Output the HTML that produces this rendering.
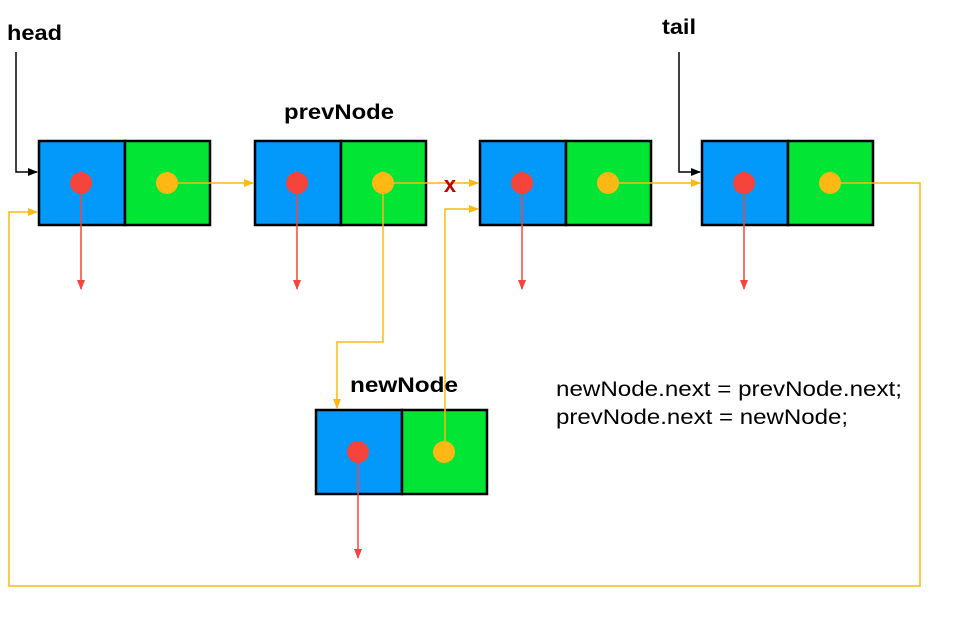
<!DOCTYPE html>
<html><head><meta charset="utf-8"><style>
html,body{margin:0;padding:0;background:#fff;width:974px;height:617px;overflow:hidden}
svg text{font-family:"Liberation Sans",Arial,sans-serif}
</style></head><body>
<svg width="974" height="617" viewBox="0 0 974 617">
<defs>
<marker id="ao" markerWidth="10" markerHeight="10" refX="9" refY="5" orient="auto" markerUnits="userSpaceOnUse"><path d="M0,1 L10,5 L0,9 Z" fill="#FDB813"/></marker>
<marker id="ar" markerWidth="10" markerHeight="10" refX="9" refY="5" orient="auto" markerUnits="userSpaceOnUse"><path d="M0,1 L10,5 L0,9 Z" fill="#F5443B"/></marker>
<marker id="ak" markerWidth="10" markerHeight="10" refX="9" refY="5" orient="auto" markerUnits="userSpaceOnUse"><path d="M0,1 L10,5 L0,9 Z" fill="#000"/></marker>
</defs>
<g id="nodes"></g>
<g fill="none" stroke-width="1.5">
<polyline points="16,52 16,172 37,172" stroke="#000" marker-end="url(#ak)"/>
<polyline points="679,52 679,172 700,172" stroke="#000" marker-end="url(#ak)"/>
<line x1="167" y1="183" x2="253" y2="183" stroke="#FDB813" marker-end="url(#ao)"/>
<line x1="383" y1="183" x2="478" y2="183" stroke="#FDB813" marker-end="url(#ao)"/>
<line x1="608" y1="183" x2="700" y2="183" stroke="#FDB813" marker-end="url(#ao)"/>
<polyline points="383,183 383,342 337,342 337,408" stroke="#FDB813" marker-end="url(#ao)"/>
<polyline points="445,452 445,209 478,209" stroke="#FDB813" marker-end="url(#ao)"/>
<polyline points="830,183 920,183 920,586 9,586 9,212 37,212" stroke="#FDB813" marker-end="url(#ao)"/>
</g>
<g id="dots"></g>
<text x="450" y="192" font-size="22" font-weight="bold" fill="#C00000" text-anchor="middle">x</text>
<text x="7" y="40" font-size="21" font-weight="bold" textLength="55" lengthAdjust="spacingAndGlyphs">head</text>
<text x="662" y="34" font-size="21" font-weight="bold" textLength="34" lengthAdjust="spacingAndGlyphs">tail</text>
<text x="284" y="119" font-size="21" font-weight="bold" textLength="110" lengthAdjust="spacingAndGlyphs">prevNode</text>
<text x="350" y="392" font-size="21" font-weight="bold" textLength="108" lengthAdjust="spacingAndGlyphs">newNode</text>
<text x="556" y="396" font-size="21" textLength="346" lengthAdjust="spacingAndGlyphs">newNode.next = prevNode.next;</text>
<text x="556" y="424" font-size="21" textLength="292" lengthAdjust="spacingAndGlyphs">prevNode.next = newNode;</text>
</svg>
<script>
const nodeX=[39,255,480,702,316];
const nodeY=[141,141,141,141,410];
const names=['node-head','node-prev','node-3','node-tail','node-new'];
const g=document.getElementById('nodes');
const gd=document.getElementById('dots');
const NS='http://www.w3.org/2000/svg';
function mk(t,a){const e=document.createElementNS(NS,t);for(const k in a)e.setAttribute(k,a[k]);return e;}
nodeX.forEach((x,i)=>{
 const y=nodeY[i];
 const grp=mk('g',{});
 
 
 const b=mk('rect',{x:x,y:y,width:86,height:84,fill:'#0399FA',stroke:'#000','stroke-width':2.5});
 
 
 const gr=mk('rect',{x:x+86,y:y,width:85,height:84,fill:'#02E535',stroke:'#000','stroke-width':2.5});
 
 
 grp.append(b,gr);
 g.appendChild(grp);
 const dg=mk('g',{});
 
 
 const rl=mk('line',{x1:x+42,y1:y+42,x2:x+42,y2:y+148,stroke:'#F5443B','stroke-width':1.5,'marker-end':'url(#ar)'});
 
 
 const rd=mk('circle',{cx:x+42,cy:y+42,r:11,fill:'#F5443B'});
 
 
 const od=mk('circle',{cx:x+128,cy:y+42,r:11,fill:'#FDB813'});
 
 
 dg.append(rl,rd,od);
 gd.appendChild(dg);
});
</script>
</body></html>
